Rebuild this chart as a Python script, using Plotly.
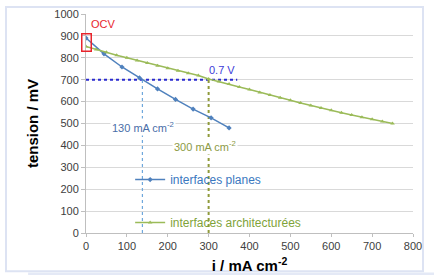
import plotly.graph_objects as go

# Data
planes_i = [0, 44, 88, 131, 175, 219, 262, 306, 350]
planes_v = [890, 818, 758, 708, 658, 610, 566, 526, 480]

archi_i = [0, 25, 50, 75, 100, 125, 150, 175, 200, 225, 250, 275, 300, 325, 350,
           375, 400, 425, 450, 475, 500, 525, 550, 575, 600, 625, 650, 675, 700, 725, 750]
archi_v = [852, 838, 825, 812, 800, 788, 776, 764, 752, 741, 730, 719, 703, 692, 680,
           667, 655, 642, 630, 618, 606, 594, 582, 571, 560, 549, 539, 529, 519, 509, 500]

x_ticks = [0, 100, 200, 300, 400, 500, 600, 700, 800]
y_ticks = [0, 100, 200, 300, 400, 500, 600, 700, 800, 900, 1000]

v_07 = 700
i_planes_07 = 138
i_archi_07 = 300
v_line_end = 370

BLUE = "#4f81bd"
GREEN = "#9bbb59"
FONT = "Liberation Sans, Arial, sans-serif"

fig = go.Figure()

# reference lines
fig.add_trace(go.Scatter(x=[0, v_line_end], y=[v_07, v_07], mode="lines",
                         line=dict(color="#2a2ad0", width=2, dash="dot"),
                         showlegend=False, hoverinfo="skip"))
fig.add_trace(go.Scatter(x=[i_planes_07, i_planes_07], y=[0, v_07], mode="lines",
                         line=dict(color="#6fa8dc", width=1.2, dash="dot"),
                         showlegend=False, hoverinfo="skip"))
fig.add_trace(go.Scatter(x=[i_archi_07, i_archi_07], y=[0, v_07], mode="lines",
                         line=dict(color="#8f9a3a", width=2, dash="dot"),
                         showlegend=False, hoverinfo="skip"))

fig.add_trace(go.Scatter(x=planes_i, y=planes_v, mode="lines+markers",
                         name="<span style='color:#3a78c0'>interfaces planes</span>",
                         line=dict(color=BLUE, width=1.5),
                         marker=dict(symbol="diamond", size=4, color=BLUE),
                         legendgroup="a"))
fig.add_trace(go.Scatter(x=archi_i, y=archi_v, mode="lines+markers",
                         name="<span style='color:#7fa33a'>interfaces architecturées</span>",
                         line=dict(color=GREEN, width=1.5),
                         marker=dict(symbol="triangle-up", size=4, color=GREEN),
                         legendgroup="b"))

annotations = [
    dict(x=42, y=955, text="OCV", showarrow=False, font=dict(color="#e8242c", size=11, family=FONT)),
    dict(x=0, y=869, text="", showarrow=False, width=8, height=16,
         bordercolor="#e8242c", borderwidth=1.5, borderpad=0),
    dict(x=332, y=745, text="0.7 V", showarrow=False, font=dict(color="#3c3cd8", size=11, family=FONT)),
    dict(x=140, y=482, text="130 mA cm<sup>-2</sup>", showarrow=False, bgcolor="white",
         font=dict(color="#4a6ea8", size=11, family=FONT)),
    dict(x=290, y=396, text="300 mA cm<sup>-2</sup>", showarrow=False, bgcolor="white",
         font=dict(color="#8c9a45", size=11, family=FONT)),
]

shapes = [
    dict(type="rect", xref="paper", yref="paper", x0=-0.2446, x1=1.0306, y0=-0.1751, y1=1.032,
         line=dict(color="#dde3f3", width=2), fillcolor="white", layer="below"),
    dict(type="rect", xref="paper", yref="paper", x0=-0.177, x1=1.07, y0=-0.193, y1=-0.18,
         line=dict(width=0), fillcolor="#e4e9f6", layer="below"),
]

fig.update_layout(
    width=434, height=275,
    margin=dict(l=86, r=21, t=14, b=42, autoexpand=False),
    paper_bgcolor="white", plot_bgcolor="rgba(0,0,0,0)",
    font=dict(family=FONT, size=11, color="#404040"),
    annotations=annotations, shapes=shapes,
    legend=dict(x=0.135, y=0.31, xanchor="left", yanchor="top",
                bgcolor="rgba(0,0,0,0)", font=dict(size=12, family=FONT),
                tracegroupgap=24, itemwidth=30),
    xaxis=dict(range=[0, 800], tickvals=x_ticks, ticktext=[str(t) for t in x_ticks],
               showgrid=False, zeroline=False, showline=True, linecolor="#bfbfbf",
               ticks="outside", ticklen=3, tickcolor="#bfbfbf", automargin=False,
               title=dict(text="<b>i / mA cm<sup>-2</sup></b>", standoff=9,
                          font=dict(size=15, color="black", family=FONT))),
    yaxis=dict(range=[0, 1000], tickvals=y_ticks, ticktext=[str(t) for t in y_ticks],
               showgrid=True, gridcolor="#d9d9d9", gridwidth=1, zeroline=False,
               showline=True, linecolor="#bfbfbf", automargin=False,
               ticks="outside", ticklen=4, tickcolor="#bfbfbf",
               title=dict(text="<b>tension / mV</b>", standoff=12,
                          font=dict(size=15, color="black", family=FONT))),
)

fig.write_html("out.html", config={"displayModeBar": False},
               post_script="document.body.style.margin='0px';document.body.style.overflow='hidden';")
